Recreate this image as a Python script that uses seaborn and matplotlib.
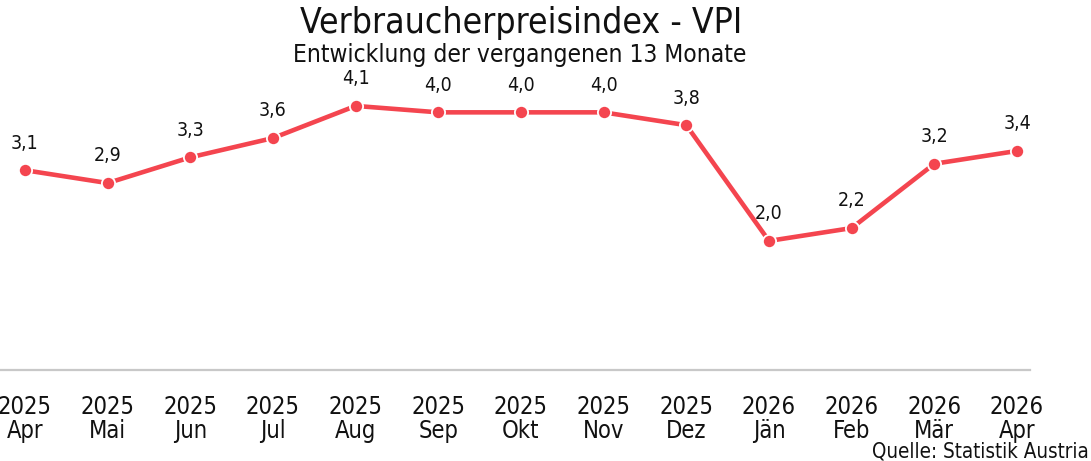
import matplotlib
matplotlib.use("Agg")
import matplotlib.pyplot as plt
import seaborn as sns
import pandas as pd

# Monthly consumer price index change (%)
years = ["2025", "2025", "2025", "2025", "2025", "2025", "2025", "2025", "2025",
         "2026", "2026", "2026", "2026"]
months = ["Apr", "Mai", "Jun", "Jul", "Aug", "Sep", "Okt", "Nov", "Dez",
          "Jän", "Feb", "Mär", "Apr"]
values = [3.1, 2.9, 3.3, 3.6, 4.1, 4.0, 4.0, 4.0, 3.8, 2.0, 2.2, 3.2, 3.4]

sns.set_theme(style="white")
plt.rcParams["font.family"] = ["DejaVu Sans"]
plt.rcParams["font.stretch"] = "condensed"

df = pd.DataFrame({"pos": range(len(values)), "vpi": values})

fig = plt.figure(figsize=(10.91, 4.61), dpi=100)
ax = fig.add_axes([0.0, 1 - 369.5 / 461, 1030 / 1091, (369.5 - 80.2) / 461])

line_color = "#f4454f"
sns.lineplot(data=df, x="pos", y="vpi", ax=ax, color=line_color, linewidth=3.3,
             marker="o", markersize=9.5, markeredgecolor="white", markeredgewidth=1.3)

for x, v in zip(df["pos"], df["vpi"]):
    ax.annotate(f"{v:.1f}".replace(".", ","), (x, v), xytext=(0, 19.5),
                textcoords="offset points", ha="center", va="center",
                fontsize=14, color="#111111")

ax.set_xlim(-0.302, 12.157)
ax.set_ylim(0, 4.5)
ax.set_xticks(list(df["pos"]))
ax.set_xticklabels([f"{y}\n{m}" for y, m in zip(years, months)], fontsize=17,
                   color="#111111", linespacing=1.05)
ax.set_yticks([])
ax.set_xlabel("")
ax.set_ylabel("")
ax.tick_params(axis="x", length=0, pad=18)
for side in ["top", "left", "right"]:
    ax.spines[side].set_visible(False)
ax.spines["bottom"].set_color("#c8c8c8")
ax.spines["bottom"].set_linewidth(1.6)

fig.text(521 / 1091, 1 - 23 / 461, "Verbraucherpreisindex - VPI", ha="center",
         va="center", fontsize=25.5, color="#111111")
fig.text(520 / 1091, 1 - 55 / 461, "Entwicklung der vergangenen 13 Monate",
         ha="center", va="center", fontsize=17.6, color="#111111")
fig.text(1089 / 1091, 1 - 451 / 461, "Quelle: Statistik Austria", ha="right",
         va="center", fontsize=14.8, color="#111111")

fig.savefig("out.png", dpi=100, facecolor="white")
